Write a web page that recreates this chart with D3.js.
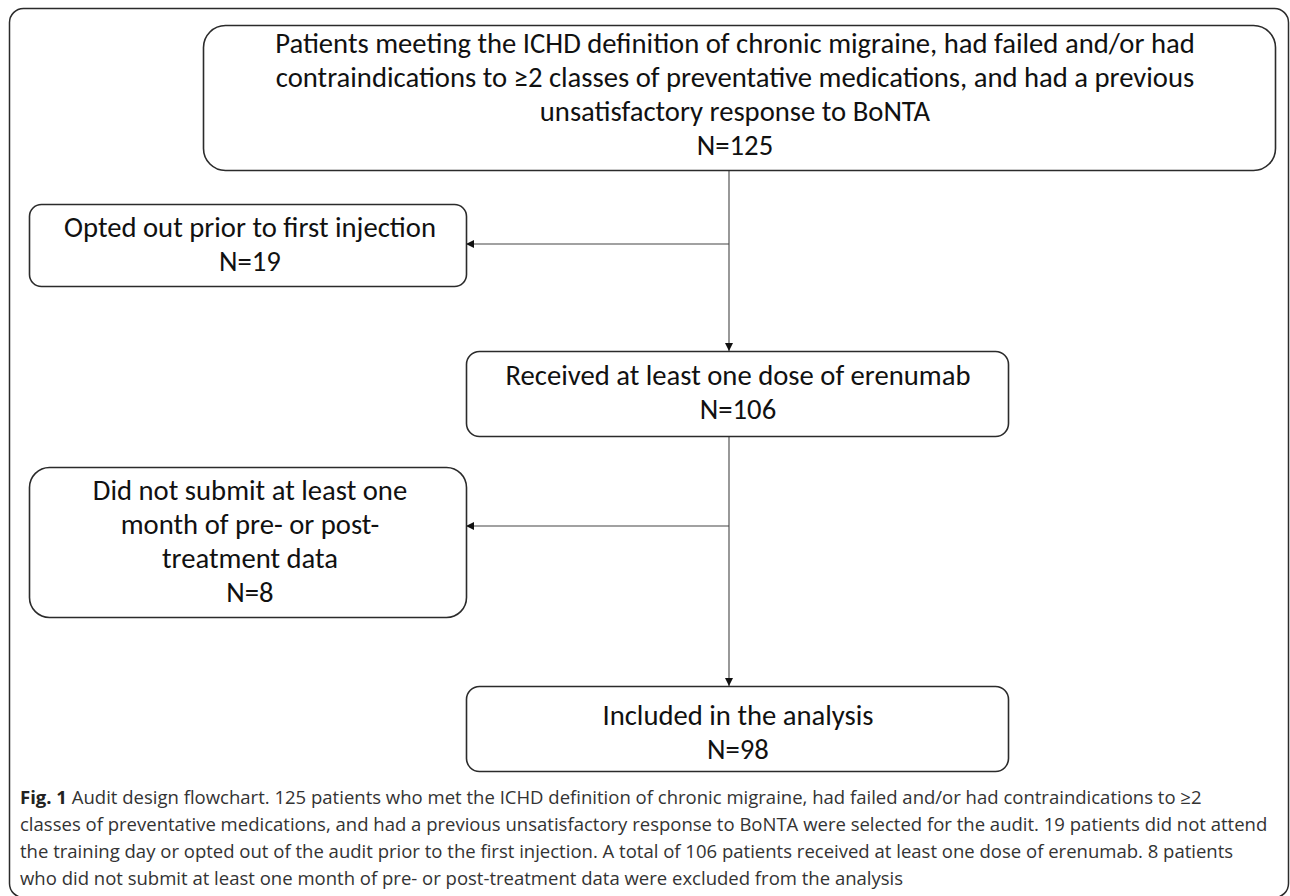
<!DOCTYPE html>
<html>
<head>
  <meta charset="UTF-8">
  <title>Audit design flowchart</title>
  <script src="https://cdn.jsdelivr.net/npm/d3@7"></script>
  <style>
    body { margin: 0; background: #fff; }
    svg { display: block; }
  </style>
</head>
<body>
<svg id="chart"></svg>
<script>
// ---- content ----
const stageText = [
  ["Patients meeting the ICHD definition of chronic migraine, had failed and/or had",
   "contraindications to \u22652 classes of preventative medications, and had a previous",
   "unsatisfactory response to BoNTA"],
  ["Received at least one dose of erenumab"],
  ["Included in the analysis"]
];
const stageN = [125, 106, 98];

const excludedText = [
  ["Opted out prior to first injection"],
  ["Did not submit at least one", "month of pre- or post-", "treatment data"]
];
const excludedN = [19, 8];

const captionBold = "Fig. 1";
const captionLines = [
  " Audit design flowchart. 125 patients who met the ICHD definition of chronic migraine, had failed and/or had contraindications to \u22652",
  "classes of preventative medications, and had a previous unsatisfactory response to BoNTA were selected for the audit. 19 patients did not attend",
  "the training day or opted out of the audit prior to the first injection. A total of 106 patients received at least one dose of erenumab. 8 patients",
  "who did not submit at least one month of pre- or post-treatment data were excluded from the analysis"
];

// ---- layout (pixels) ----
const W = 1290, H = 896;
const stageBox = [
  {x0: 203, y0: 25,  x1: 1275, y1: 170, r: 22, cx: 735, y: 53},
  {x0: 466, y0: 351, x1: 1008, y1: 436, r: 13, cx: 738, y: 385},
  {x0: 466, y0: 686, x1: 1008, y1: 771, r: 13, cx: 738, y: 725}
];
const excludedBox = [
  {x0: 29, y0: 204, x1: 466, y1: 286, r: 12, cx: 250, y: 237},
  {x0: 29, y0: 467, x1: 466, y1: 617, r: 20, cx: 250, y: 500}
];
const spineX = 729;
const branchY = [244, 526];
const lineH = 34;

const svg = d3.select("#chart").attr("width", W).attr("height", H);

const boxFont = "Carlito, Calibri, Lato, sans-serif";
const capFont = "'Open Sans', sans-serif";

// fit font sizes to the widths measured on the figure
function fitSize(str, family, weight, target) {
  const t = svg.append("text").attr("font-family", family).attr("font-size", 100)
    .attr("font-weight", weight).text(str);
  const w = t.node().getComputedTextLength();
  t.remove();
  return 100 * target / w;
}
const boxSize = fitSize(stageText[0][0], boxFont, 400, 920);
const capSize = fitSize(captionLines[1], capFont, 400, 1248);

// outer frame
svg.append("rect")
  .attr("x", 9.5).attr("y", 8.5).attr("width", 1279).attr("height", 889).attr("rx", 14)
  .attr("fill", "none").attr("stroke", "#2b2b2b").attr("stroke-width", 1.5);

svg.append("defs").append("marker")
  .attr("id", "arrow")
  .attr("viewBox", "0 0 10 10")
  .attr("refX", 10).attr("refY", 5)
  .attr("markerUnits", "userSpaceOnUse")
  .attr("markerWidth", 9).attr("markerHeight", 8)
  .attr("orient", "auto")
  .append("path").attr("d", "M0,0 L10,5 L0,10 z").attr("fill", "#111");

// connectors
const links = [
  [[spineX, stageBox[0].y1], [spineX, stageBox[1].y0]],
  [[spineX, branchY[0]], [excludedBox[0].x1, branchY[0]]],
  [[spineX, stageBox[1].y1], [spineX, stageBox[2].y0]],
  [[spineX, branchY[1]], [excludedBox[1].x1, branchY[1]]]
];
svg.append("g").selectAll("line").data(links).join("line")
  .attr("x1", d => d[0][0]).attr("y1", d => d[0][1])
  .attr("x2", d => d[1][0]).attr("y2", d => d[1][1])
  .attr("stroke", "#444").attr("stroke-width", 1.1)
  .attr("marker-end", "url(#arrow)");

// boxes
const nodes = stageText.map((t, i) => Object.assign({lines: t.concat("N=" + stageN[i])}, stageBox[i]))
  .concat(excludedText.map((t, i) => Object.assign({lines: t.concat("N=" + excludedN[i])}, excludedBox[i])));

const g = svg.append("g").selectAll("g").data(nodes).join("g");
g.append("rect")
  .attr("x", d => d.x0 + 0.5).attr("y", d => d.y0 + 0.5)
  .attr("width", d => d.x1 - d.x0).attr("height", d => d.y1 - d.y0)
  .attr("rx", d => d.r)
  .attr("fill", "#fff").attr("stroke", "#2b2b2b").attr("stroke-width", 1.6);
g.append("text")
  .attr("font-family", boxFont).attr("font-size", boxSize).attr("fill", "#111")
  .attr("text-anchor", "middle")
  .selectAll("tspan").data(d => d.lines.map((s, k) => ({s, x: d.cx, y: d.y + k * lineH}))).join("tspan")
  .attr("x", d => d.x).attr("y", d => d.y).text(d => d.s);

// caption
const cap = svg.append("g").attr("font-family", capFont).attr("font-size", capSize).attr("fill", "#333");
const capY = d3.scaleLinear().domain([0, 1]).range([804, 831]);
captionLines.forEach((s, i) => {
  const t = cap.append("text").attr("x", 20).attr("y", capY(i));
  if (i === 0) t.append("tspan").attr("font-weight", 700).attr("fill", "#222").text(captionBold);
  t.append("tspan").text(s);
});
</script>
</body>
</html>
